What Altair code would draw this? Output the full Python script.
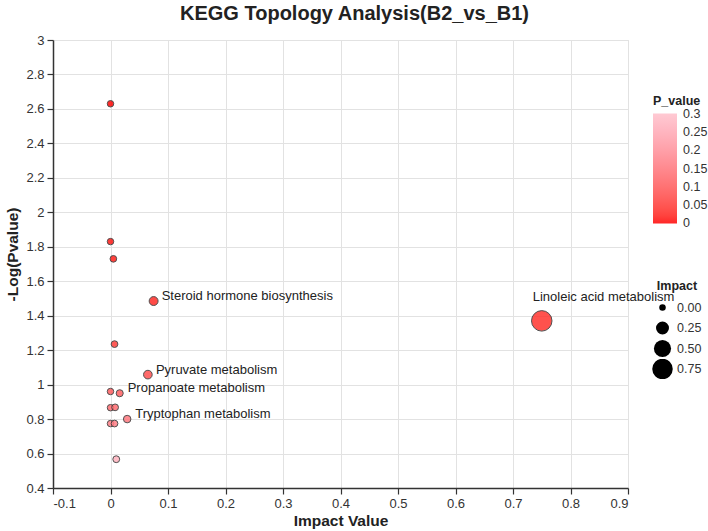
import altair as alt
import pandas as pd

# Pathway impact and significance (-log10 p) for the B2 vs B1 comparison
impact = [0.0, 0.0, 0.005, 0.075, 0.007, 0.065, 0.0, 0.016, 0.0, 0.008, 0.029, 0.0, 0.007, 0.010, 0.75]
neg_log_p = [2.63, 1.83, 1.73, 1.485, 1.235, 1.058, 0.96, 0.95, 0.866, 0.868, 0.80, 0.774, 0.774, 0.567, 1.37]
pathway = ["", "", "", "Steroid hormone biosynthesis", "", "Pyruvate metabolism", "",
           "Propanoate metabolism", "", "", "Tryptophan metabolism", "", "", "",
           "Linoleic acid metabolism"]

x_ticks = [-0.1, 0, 0.1, 0.2, 0.3, 0.4, 0.5, 0.6, 0.7, 0.8, 0.9]
y_ticks = [0.4, 0.6, 0.8, 1, 1.2, 1.4, 1.6, 1.8, 2, 2.2, 2.4, 2.6, 2.8, 3]
p_legend_values = [0, 0.05, 0.1, 0.15, 0.2, 0.25, 0.3]
impact_legend_values = [0, 0.25, 0.5, 0.75]

df = pd.DataFrame({"Impact": impact, "NegLogP": neg_log_p, "Pathway": pathway})

FONT = "Liberation Sans"
TICK_LABEL = "replace(format(datum.value, '.1~f'), '\u2212', '-')"

axis_style = dict(
    labelExpr=TICK_LABEL, labelOverlap=False, labelBound=False,
    labelFont=FONT, labelFontSize=13, labelColor="#333333", labelPadding=3,
    titleFont=FONT, titleFontSize=15.5, titleFontWeight="bold", titleColor="#222222",
    domainColor="#333333", domainWidth=1.5, tickColor="#333333", tickSize=6,
    tickWidth=1.2, gridColor="#e2e2e2", gridWidth=1,
)

x_enc = alt.X("Impact:Q", scale=alt.Scale(domain=[-0.1, 0.9], nice=False, zero=False),
              axis=alt.Axis(title="Impact Value", values=x_ticks, titlePadding=3,
                            **axis_style))
y_enc = alt.Y("NegLogP:Q", scale=alt.Scale(domain=[0.4, 3], nice=False, zero=False),
              axis=alt.Axis(title="-Log(Pvalue)", values=y_ticks, titlePadding=5,
                            titleY=214, **axis_style))

base = alt.Chart(df).transform_calculate(
    P_value="pow(10, -datum.NegLogP)"
).encode(x=x_enc, y=y_enc)

# the colour domain is padded by a hair so the end labels stay centred on their stops
points = base.mark_point(filled=True, shape="circle", stroke="#333333",
                         strokeWidth=1, opacity=0.85).encode(
    fill=alt.Fill("P_value:Q",
                  scale=alt.Scale(domain=[-0.0005, 0.3005], range=["#ff0000", "#ffc0cb"],
                                  nice=False, zero=False),
                  legend=alt.Legend(title="P_value", type="gradient", values=p_legend_values,
                                    format=".2~f", orient="none", legendX=600, legendY=55,
                                    gradientLength=110, gradientThickness=24,
                                    gradientStrokeWidth=0, titleAnchor="start",
                                    labelOverlap=False, labelOffset=6,
                                    labelFont=FONT, titleFont=FONT, labelColor="#333333",
                                    titleColor="#222222", titlePadding=6,
                                    titleFontSize=12.5, labelFontSize=12.5, padding=0)),
    size=alt.Size("Impact:Q",
                  scale=alt.Scale(domain=[0, 0.75], range=[42, 420], zero=False),
                  legend=alt.Legend(title="Impact", values=impact_legend_values, format=".2f",
                                    orient="none", legendX=599, legendY=240,
                                    symbolFillColor="black", symbolStrokeWidth=0,
                                    symbolOpacity=1, clipHeight=20, rowPadding=0.5,
                                    titleAnchor="middle", titleFontSize=12.5,
                                    labelFont=FONT, titleFont=FONT, labelColor="#333333",
                                    titleColor="#222222",
                                    labelFontSize=12.5, padding=0)),
)

labels_right = base.transform_filter(
    "datum.Pathway != '' && datum.Pathway != 'Linoleic acid metabolism'"
).mark_text(align="left", baseline="middle", dx=8, dy=-5, fontSize=13,
            font=FONT, color="#222222").encode(text="Pathway:N")

labels_above = base.transform_filter(
    "datum.Pathway == 'Linoleic acid metabolism'"
).mark_text(align="left", baseline="middle", dx=-9, dy=-24, fontSize=13,
            font=FONT, color="#222222").encode(text="Pathway:N")

chart = alt.layer(points, labels_right, labels_above).properties(
    width=575,
    height=448,
    autosize=alt.AutoSizeParams(type="none"),
    padding={"left": 53, "top": 40, "right": 80, "bottom": 43},
    title=alt.TitleParams("KEGG Topology Analysis(B2_vs_B1)", fontSize=20,
                          fontWeight="bold", font=FONT, anchor="middle",
                          offset=10, dx=14, color="#222"),
).configure_view(stroke="#444444", strokeWidth=1.2).configure(background="white")

chart.save("out.html", embed_options={"renderer": "svg", "actions": False})
